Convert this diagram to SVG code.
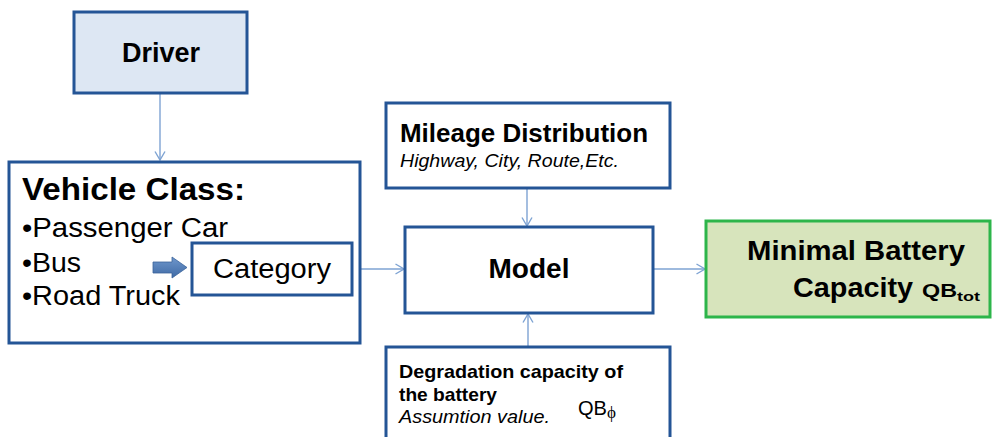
<svg xmlns="http://www.w3.org/2000/svg" width="992" height="437" viewBox="0 0 992 437">
<style>
.box{fill:#ffffff;stroke:#245596;stroke-width:3}
.t{font-family:"Liberation Sans",Arial,sans-serif;fill:#000}
.b{font-weight:bold}
.i{font-style:italic}
.conn{stroke:#7ea3d3;stroke-width:1.4;fill:none}
</style>
<defs>
<marker id="arr" viewBox="0 0 10 12" refX="9.5" refY="6" markerWidth="10" markerHeight="12" markerUnits="userSpaceOnUse" orient="auto">
<path d="M1,1 L9.5,6 L1,11" fill="none" stroke="#7ea3d3" stroke-width="1.4"/>
</marker>
<linearGradient id="ba" x1="0" y1="0" x2="0" y2="1">
<stop offset="0" stop-color="#6f97cc"/>
<stop offset="1" stop-color="#3f6aa5"/>
</linearGradient>
</defs>
<rect width="992" height="437" fill="#ffffff"/>

<g id="connectors">
<line class="conn" x1="160" y1="94" x2="160" y2="160" marker-end="url(#arr)"/>
<line class="conn" x1="527" y1="189" x2="527" y2="226" marker-end="url(#arr)"/>
<line class="conn" x1="528" y1="346" x2="528" y2="314" marker-end="url(#arr)"/>
<line class="conn" x1="352" y1="269" x2="404" y2="269" marker-end="url(#arr)"/>
<line class="conn" x1="654" y1="269" x2="705" y2="269" marker-end="url(#arr)"/>
</g>

<g id="driver">
<rect x="74" y="12" width="173" height="81" fill="#dde7f3" stroke="#245596" stroke-width="3"/>
<text class="t b" x="161" y="62" font-size="27" text-anchor="middle">Driver</text>
</g>

<g id="vehicle-class">
<rect class="box" x="9" y="162" width="351" height="181"/>
<text class="t b" x="22" y="200" font-size="32" textLength="223" lengthAdjust="spacingAndGlyphs">Vehicle Class:</text>
<text class="t" x="22" y="237" font-size="27" textLength="206" lengthAdjust="spacingAndGlyphs">•Passenger Car</text>
<text class="t" x="22" y="272" font-size="27" textLength="59" lengthAdjust="spacingAndGlyphs">•Bus</text>
<text class="t" x="22" y="305" font-size="27" textLength="158" lengthAdjust="spacingAndGlyphs">•Road Truck</text>
<polygon points="153,262 172,262 172,257 187,267.5 172,278 172,273 153,273" fill="url(#ba)" stroke="#3a639b" stroke-width="0.8"/>
</g>

<g id="category">
<rect class="box" x="192" y="243" width="160" height="52"/>
<text class="t" x="213" y="278" font-size="27" textLength="118" lengthAdjust="spacingAndGlyphs">Category</text>
</g>

<g id="mileage">
<rect class="box" x="386" y="103" width="284" height="85"/>
<text class="t b" x="400" y="142" font-size="25" textLength="248" lengthAdjust="spacingAndGlyphs">Mileage Distribution</text>
<text class="t i" x="400" y="167" font-size="18" textLength="219" lengthAdjust="spacingAndGlyphs">Highway, City, Route,Etc.</text>
</g>

<g id="model">
<rect class="box" x="405" y="227" width="248" height="86"/>
<text class="t b" x="529" y="278" font-size="28" text-anchor="middle">Model</text>
</g>

<g id="degradation">
<rect class="box" x="386" y="347" width="284" height="100"/>
<text class="t b" x="399" y="378" font-size="18.5" textLength="224" lengthAdjust="spacingAndGlyphs">Degradation capacity of</text>
<text class="t b" x="399" y="401" font-size="18.5" textLength="98" lengthAdjust="spacingAndGlyphs">the battery</text>
<text class="t i" x="399" y="423" font-size="18.5" textLength="151" lengthAdjust="spacingAndGlyphs">Assumtion value.</text>
<text class="t" x="578" y="415" font-size="21" textLength="29" lengthAdjust="spacingAndGlyphs">QB</text>
<text x="607" y="418" font-family="'Liberation Serif','Times New Roman',serif" font-size="17" fill="#000">ϕ</text>
</g>

<g id="minimal-battery">
<rect x="706" y="221" width="284" height="96" fill="#d7e4bc" stroke="#2db54a" stroke-width="3"/>
<text class="t b" x="747" y="260" font-size="27.5" textLength="218" lengthAdjust="spacingAndGlyphs">Minimal Battery</text>
<text class="t b" x="793" y="297" font-size="27.5" textLength="120" lengthAdjust="spacingAndGlyphs">Capacity</text>
<text class="t b" x="922" y="297" font-size="18" textLength="35" lengthAdjust="spacingAndGlyphs">QB</text>
<text class="t b" x="957" y="301" font-size="13" textLength="23" lengthAdjust="spacingAndGlyphs">tot</text>
</g>
</svg>
